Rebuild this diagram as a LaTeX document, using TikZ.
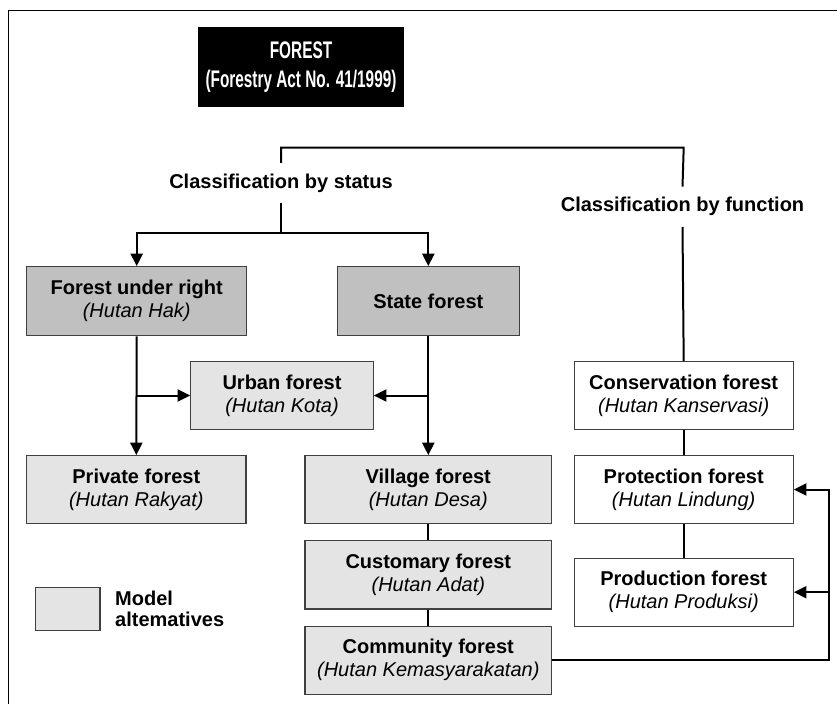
\documentclass[tikz,border=0pt]{standalone}
\usepackage{fontspec}
\setmainfont{Liberation Sans}
\newfontfamily\narrowfont[FakeStretch=0.64]{Liberation Sans}
\usetikzlibrary{arrows.meta}
\definecolor{darkfill}{HTML}{C0C0C0}
\definecolor{lightfill}{HTML}{E4E4E4}
\definecolor{boxline}{HTML}{404040}
\tikzset{
  x=1pt, y=-1pt,
  box/.style={draw=boxline, line width=1.1pt, inner sep=0pt, align=center,
    font=\fontsize{20}{23}\selectfont},
  statusbox/.style={box, fill=darkfill},
  modelbox/.style={box, fill=lightfill},
  funcbox/.style={box, fill=white},
  headbox/.style={fill=black, text=white, inner sep=0pt, align=center,
    font=\narrowfont\bfseries\fontsize{24}{29}\selectfont},
  classlabel/.style={inner sep=0pt, minimum height=40pt, fill=white,
    font=\bfseries\fontsize{20}{23}\selectfont},
  link/.style={line width=2pt},
  arrowlink/.style={link, -{Triangle[length=12.5pt,width=12pt]}},
}
\newcommand{\boxtext}[2]{\textbf{#1}\\\textit{#2}}
\begin{document}
\begin{tikzpicture}
\useasboundingbox (0,0) rectangle (837,704);
% outer frame
\draw[line width=1.5pt] (8.3,704) -- (8.3,10.7) -- (837,10.7);

% heading
\node[headbox, minimum width=206pt, minimum height=80pt] (forest) at (301,67)
  {FOREST\\(Forestry Act No. 41/1999)};

% classification labels
\node[classlabel] (status) at (281,183) {Classification by status};
\node[classlabel] (func) at (682.5,206.8) {Classification by function};

% status branch
\node[statusbox, minimum width=220pt, minimum height=69pt] (right) at (136.7,301.2)
  {\boxtext{Forest under right}{(Hutan Hak)}};
\node[statusbox, minimum width=182pt, minimum height=69pt] (state) at (428.3,301.2)
  {\textbf{State forest}};
\node[modelbox, minimum width=182.6pt, minimum height=67.6pt] (urban) at (282,395.5)
  {\boxtext{Urban forest}{(Hutan Kota)}};
\node[modelbox, minimum width=219.3pt, minimum height=67.6pt] (private) at (136.3,489.5)
  {\boxtext{Private forest}{(Hutan Rakyat)}};
\node[modelbox, minimum width=246.7pt, minimum height=67.6pt] (village) at (428.3,489.5)
  {\boxtext{Village forest}{(Hutan Desa)}};
\node[modelbox, minimum width=246.7pt, minimum height=68.3pt] (custom) at (428.3,574.8)
  {\boxtext{Customary forest}{(Hutan Adat)}};
\node[modelbox, minimum width=246.7pt, minimum height=68.3pt] (community) at (428.3,660.2)
  {\boxtext{Community forest}{(Hutan Kemasyarakatan)}};

% function branch
\node[funcbox, minimum width=219.3pt, minimum height=67.6pt] (cons) at (683.7,395.5)
  {\boxtext{Conservation forest}{(Hutan Kanservasi)}};
\node[funcbox, minimum width=219.3pt, minimum height=67.6pt] (prot) at (683.7,489.5)
  {\boxtext{Protection forest}{(Hutan Lindung)}};
\node[funcbox, minimum width=219.3pt, minimum height=67.7pt] (prod) at (683.7,592.2)
  {\boxtext{Production forest}{(Hutan Produksi)}};

% legend
\node[modelbox, minimum width=64.3pt, minimum height=43.4pt] (key) at (67.8,609) {};
\node[anchor=west, inner sep=0pt, align=left,
  font=\bfseries\fontsize{20}{21}\selectfont] (keytext) at (115,609)
  {Model\\altematives};

% connectors
\coordinate (topbar) at (683.7,147.7);
\coordinate (split) at (281,233);
\coordinate (rail) at (829.3,660.2);

\draw[link] (status.north) |- (topbar) -- (func.north);
\draw[link] (status.south) -- (split);
\draw[arrowlink] (split) -| (right.north);
\draw[arrowlink] (split) -| (state.north);
\draw[link] (func.south) -- (cons.north);

\draw[arrowlink] (right.south) -- (private.north);
\draw[arrowlink] (right.south |- urban.west) -- (urban.west);
\draw[arrowlink] (state.south) -- (village.north);
\draw[arrowlink] (state.south |- urban.east) -- (urban.east);
\draw[link] (village.south) -- (custom.north);
\draw[link] (custom.south) -- (community.north);

\draw[link] (cons.south) -- (prot.north);
\draw[link] (prot.south) -- (prod.north);

\draw[arrowlink] (community.east) -- (rail) |- (prot.east);
\draw[arrowlink] (rail |- prod.east) -- (prod.east);
\end{tikzpicture}
\end{document}
